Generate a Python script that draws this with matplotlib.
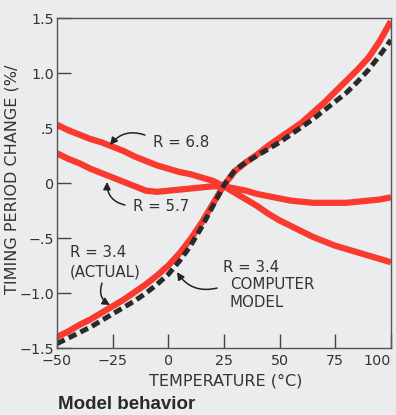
import matplotlib
matplotlib.use("Agg")
import matplotlib.pyplot as plt
from matplotlib.ticker import FixedLocator, FixedFormatter

# temperature grid (deg C) and timing period change (%)
temp = [-50, -45, -40, -35, -30, -25, -20, -15, -10, -5, 0, 5, 10, 15, 20,
        25, 30, 35, 40, 45, 50, 55, 60, 65, 70, 75, 80, 85, 90, 95, 100]
r68 = [0.53, 0.48, 0.44, 0.40, 0.37, 0.33, 0.29, 0.24, 0.20, 0.16, 0.13,
       0.10, 0.08, 0.05, 0.02, -0.03, -0.09, -0.15, -0.21, -0.28, -0.34,
       -0.39, -0.44, -0.49, -0.53, -0.57, -0.60, -0.63, -0.66, -0.69, -0.72]
r57 = [0.27, 0.22, 0.18, 0.13, 0.09, 0.05, 0.01, -0.03, -0.07, -0.08, -0.07,
       -0.06, -0.05, -0.04, -0.03, -0.03, -0.05, -0.07, -0.10, -0.12, -0.14,
       -0.16, -0.17, -0.18, -0.18, -0.18, -0.18, -0.17, -0.16, -0.15, -0.13]
r34_actual = [-1.40, -1.35, -1.29, -1.24, -1.18, -1.12, -1.06, -0.99, -0.92,
              -0.84, -0.75, -0.64, -0.51, -0.36, -0.19, -0.02, 0.11, 0.19,
              0.26, 0.34, 0.41, 0.48, 0.55, 0.64, 0.73, 0.83, 0.93, 1.03,
              1.14, 1.29, 1.47]
r34_model = [-1.46, -1.41, -1.36, -1.31, -1.25, -1.19, -1.13, -1.07, -1.00,
             -0.92, -0.83, -0.71, -0.57, -0.40, -0.21, -0.02, 0.12, 0.19,
             0.25, 0.31, 0.37, 0.44, 0.51, 0.58, 0.66, 0.74, 0.82, 0.92,
             1.03, 1.16, 1.30]

xticks = [-50, -25, 0, 25, 50, 75, 100]
xlabels = ["\u221250", "\u221225", "0", "25", "50", "75", "100"]
yticks = [-1.5, -1.0, -0.5, 0, 0.5, 1.0, 1.5]
ylabels = ["\u22121.5", "\u22121.0", "\u2212.5", "0", ".5", "1.0", "1.5"]

bg = "#eaeced"
red = "#fa3a2e"
ink = "#333333"

plt.rcParams['font.family'] = ['DejaVu Sans']

fig = plt.figure(figsize=(3.96, 4.15), dpi=100, facecolor=bg)
ax = fig.add_axes([0.144, 0.1614, 0.843, 0.7952])
ax.set_facecolor(bg)

ax.plot(temp, r68, color=red, lw=4.5, solid_capstyle='butt', solid_joinstyle='round')
ax.plot(temp, r57, color=red, lw=4.5, solid_capstyle='butt', solid_joinstyle='round')
ax.plot(temp, r34_actual, color=red, lw=4.5, solid_capstyle='butt',
        solid_joinstyle='round')
ax.plot(temp, r34_model, color="#2a2a2a", lw=3.6, dashes=(1.7, 0.9),
        dash_capstyle='butt')

ax.set_xlim(-50, 100)
ax.set_ylim(-1.5, 1.5)
ax.xaxis.set_major_locator(FixedLocator(xticks))
ax.xaxis.set_major_formatter(FixedFormatter(xlabels))
ax.yaxis.set_major_locator(FixedLocator(yticks))
ax.yaxis.set_major_formatter(FixedFormatter(ylabels))
ax.tick_params(direction='in', length=10, width=1.0, colors="#444444",
               labelcolor=ink, labelsize=10.3)
ax.tick_params(axis='x', pad=4)
ax.tick_params(axis='y', pad=2)
for s in ax.spines.values():
    s.set_color("#555555")
    s.set_linewidth(1.0)

# last x label squeezed against the right edge, as in the original
fig.canvas.draw()
ax.get_xticklabels()[-1].set_horizontalalignment('right')
ax.get_xticklabels()[-1].set_x(100)

ax.set_ylabel("TIMING PERIOD CHANGE (%/", fontsize=11.5, color=ink)
ax.yaxis.set_label_coords(-0.112, 0.51)
ax.set_xlabel("TEMPERATURE (\u00b0C)", fontsize=11.5, color=ink)
ax.xaxis.set_label_coords(0.506, -0.076)

# annotations
tk = dict(fontsize=10.8, color=ink, va='center', ha='left')
arr = dict(arrowstyle='-|>', color="#222222", lw=1.1, mutation_scale=11,
           shrinkA=0, shrinkB=0)

ax.text(-6.9, 0.364, "R = 6.8", **tk)
ax.annotate("", xy=(-26.2, 0.345), xytext=(-10.5, 0.436),
            arrowprops=dict(connectionstyle='arc3,rad=0.35', **arr))

ax.text(-15.9, -0.218, "R = 5.7", **tk)
ax.annotate("", xy=(-27.5, 0.01), xytext=(-19.5, -0.20),
            arrowprops=dict(connectionstyle='arc3,rad=-0.4', **arr))

ax.text(-44.2, -0.636, "R = 3.4", **tk)
ax.text(-44.2, -0.81, "(ACTUAL)", **tk)
ax.annotate("", xy=(-26.2, -1.11), xytext=(-29.8, -0.91),
            arrowprops=dict(connectionstyle='arc3,rad=0.4', **arr))

ax.text(24.6, -0.764, "R = 3.4", **tk)
ax.text(27.7, -0.927, "COMPUTER", **tk)
ax.text(27.7, -1.09, "MODEL", **tk)
ax.annotate("", xy=(3.9, -0.81), xytext=(21.9, -0.955),
            arrowprops=dict(connectionstyle='arc3,rad=-0.35', **arr))

fig.text(0.146, 0.026, "Model behavior", family=['Liberation Sans', 'DejaVu Sans'],
         fontweight='bold', fontsize=13.5, color="#2a2a2a", va='center', ha='left')

fig.savefig("out.png", dpi=100, facecolor=bg)
